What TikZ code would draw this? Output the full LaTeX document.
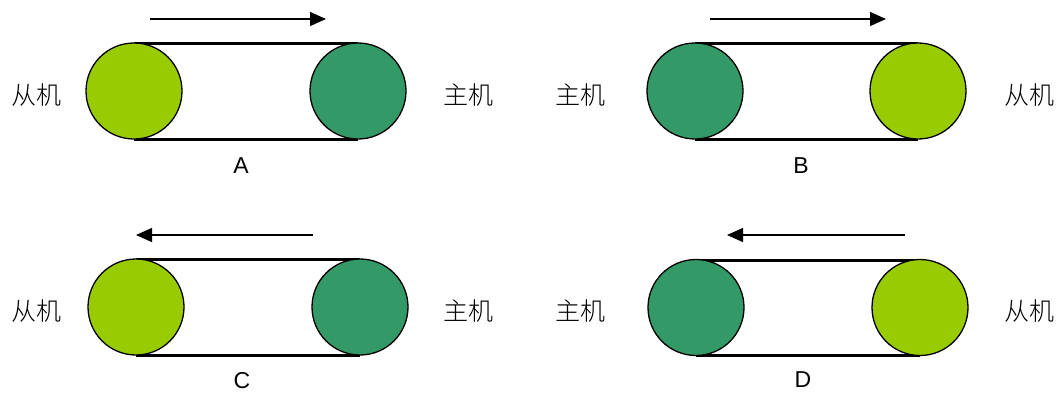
\documentclass[tikz,border=0pt]{standalone}
\usepackage{fontspec}
\setmainfont{Liberation Sans}
\newfontfamily\cjk{Noto Sans CJK SC Light}
\usetikzlibrary{arrows.meta}
\definecolor{slavegreen}{HTML}{99CC00}
\definecolor{mastergreen}{HTML}{339966}
\tikzset{
  wheel/.style={circle,draw=black,line width=1.3pt,minimum size=96pt,inner sep=0pt},
  slave/.style={wheel,fill=slavegreen},
  master/.style={wheel,fill=mastergreen},
  belt/.style={line width=3pt},
  dirarrow/.style={line width=1.4pt,-{Triangle[length=16pt,width=14pt]}},
  cnlabel/.style={font=\cjk\fontsize{25pt}{27pt}\selectfont,inner sep=0pt},
  letter/.style={font=\fontsize{23pt}{26pt}\selectfont,inner sep=0pt}
}
\begin{document}
\begin{tikzpicture}[x=1pt,y=-1pt]
\useasboundingbox (0,0) rectangle (1057,394);
% Panel A
\draw[belt] (134,43) coordinate (a1) -- (358,43) coordinate (a2);
\draw[belt] (134,139) coordinate (a3) -- (358,139) coordinate (a4);
\node[slave] (As) at (134,91) {};
\node[master] (Am) at (358,91) {};
\coordinate (Aa1) at (150,19); \coordinate (Aa2) at (326,19);
\draw[dirarrow] (Aa1) -- (Aa2);
\node[cnlabel] (Al) at (36,95) {从机};
\node[cnlabel] (Ar) at (468,95) {主机};
\node[letter] (AL) at (241,166) {A};
% Panel B
\draw[belt] (695,43) coordinate (b1) -- (918,43) coordinate (b2);
\draw[belt] (695,139) coordinate (b3) -- (918,139) coordinate (b4);
\node[master] (Bm) at (695,91) {};
\node[slave] (Bs) at (918,91) {};
\coordinate (Ba1) at (710,19); \coordinate (Ba2) at (886,19);
\draw[dirarrow] (Ba1) -- (Ba2);
\node[cnlabel] (Bl) at (580,95) {主机};
\node[cnlabel] (Br) at (1029,95) {从机};
\node[letter] (BL) at (801,166) {B};
% Panel C
\draw[belt] (136,259) coordinate (c1) -- (360,259) coordinate (c2);
\draw[belt] (136,355) coordinate (c3) -- (360,355) coordinate (c4);
\node[slave] (Cs) at (136,307) {};
\node[master] (Cm) at (360,307) {};
\coordinate (Ca1) at (313,235); \coordinate (Ca2) at (136,235);
\draw[dirarrow] (Ca1) -- (Ca2);
\node[cnlabel] (Cl) at (36,311) {从机};
\node[cnlabel] (Cr) at (468,311) {主机};
\node[letter] (CL) at (242,381) {C};
% Panel D
\draw[belt] (696,260) coordinate (d1) -- (920,260) coordinate (d2);
\draw[belt] (696,355) coordinate (d3) -- (920,355) coordinate (d4);
\node[master] (Dm) at (696,307.5) {};
\node[slave] (Ds) at (920,307.5) {};
\coordinate (Da1) at (905,235); \coordinate (Da2) at (727,235);
\draw[dirarrow] (Da1) -- (Da2);
\node[cnlabel] (Dl) at (580,311) {主机};
\node[cnlabel] (Dr) at (1029,311) {从机};
\node[letter] (DL) at (803,380) {D};
\end{tikzpicture}
\end{document}
